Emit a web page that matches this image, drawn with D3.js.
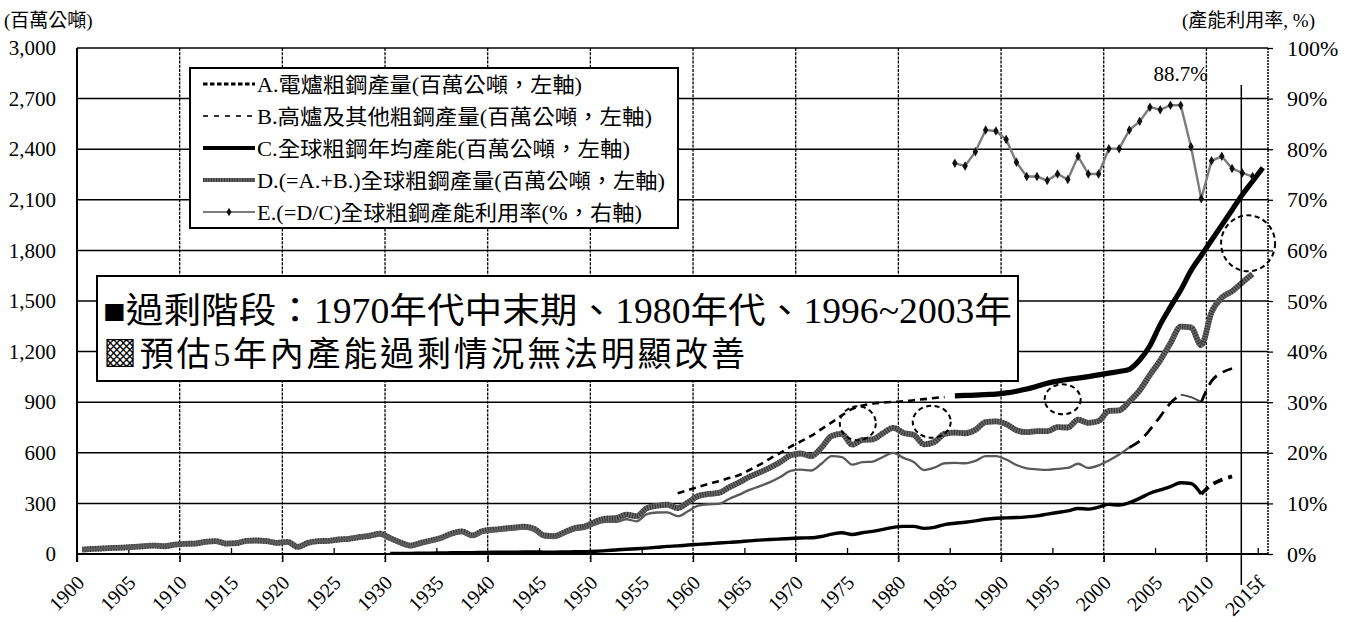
<!DOCTYPE html>
<html><head><meta charset="utf-8">
<script src="https://cdn.jsdelivr.net/npm/d3@7/dist/d3.min.js"></script>
<style>body{margin:0;background:#fff}svg{display:block}</style>
</head><body>
<svg id="c" width="1350" height="622"></svg>
<script>
// ---------------- DATA ----------------
const tickYears = d3.range(1900, 2016, 5);
const tickLabels = ["1900","1905","1910","1915","1920","1925","1930","1935","1940","1945","1950","1955","1960","1965","1970","1975","1980","1985","1990","1995","2000","2005","2010","2015f"];
const leftTicks = [0,300,600,900,1200,1500,1800,2100,2400,2700,3000];
const rightTicks = [0,10,20,30,40,50,60,70,80,90,100];

// D. world crude steel production (Mt), 1900-2014
const prodStart = 1900;
const totalProd = [
 26,30,33,36,38,42,46,50,46,55,
 60,62,72,76,62,64,78,80,76,66,
 72,42,66,76,78,86,90,100,108,120,
 94,68,50,66,80,96,122,134,110,136,
 144,150,156,162,150,110,106,130,154,164,
 192,210,212,234,224,272,286,292,272,306,
 344,356,362,395,425,458,484,512,545,585,
 596,580,630,700,712,648,676,680,716,748,
 718,706,650,664,712,720,716,736,782,786,
 770,734,722,728,728,752,750,796,778,788,
 848,852,904,970,1062,1148,1250,1348,1343,1238,
 1433,1520,1558,1610,1660];

// B. BOF & other production (Mt), 1900-2012
const bofStart = 1900;
const bofProd = [
 26,30,33,36,38,42,46,50,46,55,
 60,62,72,76,62,64,78,80,76,66,
 72,42,66,76,78,86,90,100,108,120,
 90,64,46,61,75,90,115,126,102,127,
 134,140,145,150,138,99,95,118,141,150,
 176,190,190,206,194,236,246,247,224,253,
 287,295,297,326,352,380,402,426,456,493,
 500,495,535,580,575,530,545,548,575,600,
 570,545,498,512,538,540,538,552,580,580,
 560,528,508,502,499,505,510,535,510,525,
 555,590,632,670,737,815,895,945,930,900,
 1025,1075,1100];

// A. EAF production (Mt), 1930-2012
const eafStart = 1930;
const eafProd = [
 4,4,4,5,5,6,7,8,8,9,
 10,10,11,12,12,11,11,12,13,14,
 16,20,24,28,31,35,40,45,48,53,
 57,61,65,69,73,78,82,86,89,92,
 95,96,104,118,126,116,126,134,146,158,
 164,164,152,158,174,182,188,196,206,212,
 214,216,220,226,236,246,256,270,266,278,
 294,290,304,330,360,380,400,422,418,355,
 410,440,460];

// C. world crude steel capacity (Mt), 1958-2015
const capStart = 1958;
const capacity = [
 360,378,398,416,432,450,468,498,530,566,
 600,636,668,700,740,780,822,860,880,892,
 898,902,905,912,918,925,930,937,940,942,
 945,948,955,965,978,995,1012,1025,1035,1043,
 1052,1062,1072,1082,1095,1150,1235,1360,1465,1565,
 1680,1770,1860,1950,2040,2130,2210,2290];

// E. capacity utilisation (%), 1985-2014
const utilStart = 1985;
const utilization = [
 77.2,76.7,79.5,83.8,83.6,81.9,77.4,74.6,74.6,73.8,
 75.1,74.0,78.6,75.1,75.1,80.1,80.1,83.8,85.5,88.3,
 87.8,88.7,88.7,80.5,70.2,77.7,78.6,76.2,75.3,74.6];

const peakLabel = "88.7%";
const peakYear = 2007;
const peakValue = 88.7;

// annotation circles (year on the edge axis, value in Mt)
const circleYears = [1976.05, 1983.25, 1996.0, 2014.06];
const circleValues = [775, 784, 917, 1842];
const markerYear = 2013.4;

const legendLabels = [
 "A.電爐粗鋼產量(百萬公噸，左軸)",
 "B.高爐及其他粗鋼產量(百萬公噸，左軸)",
 "C.全球粗鋼年均產能(百萬公噸，左軸)",
 "D.(=A.+B.)全球粗鋼產量(百萬公噸，左軸)",
 "E.(=D/C)全球粗鋼產能利用率(%，右軸)"];
const noteLines = [
 "■過剩階段：1970年代中末期、1980年代、1996~2003年",
 "▩預估5年內產能過剩情況無法明顯改善"];
const leftTitle = "(百萬公噸)";
const rightTitle = "(產能利用率, %)";

// ---------------- LAYOUT ----------------
const L = 77, R = 1268, T = 48, B = 554;
const FONT = '"Liberation Serif","Times New Roman","Noto Sans CJK TC",serif';
const svg = d3.select("#c");
const xE = d3.scaleLinear().domain([1900, 2016]).range([L, R]);
const xc = yr => xE(yr + 0.5);
const yL = d3.scaleLinear().domain([0, 3000]).range([B, T]);
const yR = d3.scaleLinear().domain([0, 100]).range([B, T]);

const toPts = (start, arr) => arr.map((v, i) => ({year: start + i, v}));
const D = toPts(prodStart, totalProd);
const Bp = toPts(bofStart, bofProd);
const A = toPts(eafStart, eafProd);
const C = toPts(capStart, capacity);
const E = toPts(utilStart, utilization);
const seg = (pts, a, b) => pts.filter(p => p.year >= a && p.year <= b);

const lineL = d3.line().x(d => xc(d.year)).y(d => yL(d.v)).curve(d3.curveMonotoneX);
const lineR = d3.line().x(d => xc(d.year)).y(d => yR(d.v));

// gridlines
const grid = svg.append("g");
grid.selectAll("line.h").data(leftTicks.filter(d => d > 0 && d < 3000)).join("line")
  .attr("x1", L).attr("x2", R).attr("y1", d => yL(d)).attr("y2", d => yL(d))
  .attr("stroke", "#000").attr("stroke-width", 1.5);
grid.selectAll("line.v").data(tickYears.filter(d => d % 10 === 0 && d > 1900)).join("line")
  .attr("x1", d => xE(d)).attr("x2", d => xE(d)).attr("y1", T).attr("y2", B + 8)
  .attr("stroke", "#000").attr("stroke-width", 1.3).attr("stroke-dasharray", "3,1.2");

// x axis
const xAxis = d3.axisBottom(xE).tickValues(tickYears).tickSize(0).tickFormat((d, i) => tickLabels[i]);
const gx = svg.append("g").attr("transform", `translate(0,${B})`).call(xAxis);
gx.select(".domain").remove();
gx.selectAll(".tick").append("line")
  .attr("y1", d => d % 10 === 0 ? 8 : -6).attr("y2", 0).attr("stroke", "#000").attr("stroke-width", 1.3);
gx.selectAll("text").attr("y", 0).attr("dy", 0)
  .attr("transform", "translate(8,30) rotate(-45)")
  .style("text-anchor", "end").style("font-family", FONT).style("font-size", "20px").attr("fill", "#000");

// left axis
const gl = svg.append("g").attr("transform", `translate(${L},0)`)
  .call(d3.axisLeft(yL).tickValues(leftTicks).tickSize(0).tickPadding(21).tickFormat(d3.format(",")));
gl.select(".domain").remove();
gl.selectAll("text").style("font-family", FONT).style("font-size", "21px").attr("fill", "#000");

// right axis
const gr = svg.append("g").attr("transform", `translate(${R},0)`)
  .call(d3.axisRight(yR).tickValues(rightTicks).tickSize(5).tickPadding(14).tickFormat(d => d + "%"));
gr.select(".domain").remove();
gr.selectAll("line").attr("stroke", "#000").attr("stroke-width", 1.3);
gr.selectAll("text").style("font-family", FONT).style("font-size", "22px").attr("fill", "#000");

// frame
svg.append("line").attr("x1", L).attr("x2", R).attr("y1", T).attr("y2", T).attr("stroke", "#000").attr("stroke-width", 1.5);
svg.append("line").attr("x1", L).attr("x2", L).attr("y1", T).attr("y2", B + 8).attr("stroke", "#000").attr("stroke-width", 2);
svg.append("line").attr("x1", L).attr("x2", R).attr("y1", B).attr("y2", B).attr("stroke", "#000").attr("stroke-width", 2.2);
svg.append("line").attr("x1", R).attr("x2", R).attr("y1", T).attr("y2", B).attr("stroke", "#000").attr("stroke-width", 1.5).attr("stroke-dasharray", "2,1");

// titles
svg.append("text").attr("x", 4).attr("y", 27).text(leftTitle)
  .style("font-family", FONT).style("font-size", "19px");
svg.append("text").attr("x", 1182).attr("y", 27).text(rightTitle)
  .style("font-family", FONT).style("font-size", "19px");

// ---------------- SERIES ----------------
const lines = svg.append("g").attr("fill", "none");
function texturedLine(g, d, w) {
  g.append("path").attr("d", d).attr("stroke", "#6c6c6c").attr("stroke-width", w);
  g.append("path").attr("d", d).attr("stroke", "#111").attr("stroke-width", w)
    .attr("stroke-dasharray", "1.2,1.4").attr("opacity", 0.55);
}
// A: EAF
lines.append("path").attr("d", lineL(seg(A, 1930, 2009))).attr("stroke", "#000").attr("stroke-width", 3.4);
lines.append("path").attr("d", lineL(seg(A, 2009, 2012))).attr("stroke", "#000").attr("stroke-width", 3.8).attr("stroke-dasharray", "10,6");
// D: total production
texturedLine(lines, lineL(D), 5.8);
// B: BOF & other
lines.append("path").attr("d", lineL(seg(Bp, 1900, 2002))).attr("stroke", "#5a5a5a").attr("stroke-width", 2.3);
lines.append("path").attr("d", lineL(seg(Bp, 2002, 2007))).attr("stroke", "#000").attr("stroke-width", 2.8).attr("stroke-dasharray", "12,7");
lines.append("path").attr("d", lineL(seg(Bp, 2007, 2009))).attr("stroke", "#444").attr("stroke-width", 2);
lines.append("path").attr("d", lineL(seg(Bp, 2009, 2012))).attr("stroke", "#000").attr("stroke-width", 2.8).attr("stroke-dasharray", "12,7");
// C: capacity
lines.append("path").attr("d", lineL(seg(C, 1958, 1984))).attr("stroke", "#000").attr("stroke-width", 2.6).attr("stroke-dasharray", "7,5");
lines.append("path").attr("d", lineL(seg(C, 1985, 2015))).attr("stroke", "#000").attr("stroke-width", 5.2);
// E: utilisation
lines.append("path").attr("d", lineR(E)).attr("stroke", "#7c7c7c").attr("stroke-width", 2.4);
svg.append("g").selectAll("path").data(E).join("path")
  .attr("transform", d => `translate(${xc(d.year)},${yR(d.v)})`)
  .attr("d", d3.symbol(d3.symbolDiamond, 26)).attr("fill", "#111");

// peak label
svg.append("text").attr("x", xc(peakYear)).attr("y", yR(peakValue) - 24).attr("text-anchor", "middle")
  .text(peakLabel).style("font-family", FONT).style("font-size", "21px");

// marker line
svg.append("line").attr("x1", xE(markerYear)).attr("x2", xE(markerYear))
  .attr("y1", yL(2780)).attr("y2", B + 31).attr("stroke", "#000").attr("stroke-width", 1.5);

// annotation circles
const circleR = [[18, 17], [19, 16], [18, 15], [27, 28]];
svg.append("g").selectAll("ellipse").data(circleYears).join("ellipse")
  .attr("cx", d => xE(d)).attr("cy", (d, i) => yL(circleValues[i]))
  .attr("rx", (d, i) => circleR[i][0]).attr("ry", (d, i) => circleR[i][1])
  .attr("fill", "none").attr("stroke", "#000").attr("stroke-width", 2).attr("stroke-dasharray", "5,3.5");

// ---------------- LEGEND ----------------
const lg = svg.append("g");
lg.append("rect").attr("x", 190).attr("y", 68).attr("width", 488).attr("height", 160)
  .attr("fill", "#fff").attr("stroke", "#000").attr("stroke-width", 2);
const legLens = [325, 395, 373, 408, 385];
legendLabels.forEach((t, i) => {
  const cy = 84 + i * 32;
  const gg = lg.append("g");
  if (i === 0) gg.append("line").attr("x1", 203).attr("x2", 255).attr("y1", cy).attr("y2", cy)
    .attr("stroke", "#000").attr("stroke-width", 3).attr("stroke-dasharray", "4.5,2.5");
  if (i === 1) gg.append("line").attr("x1", 203).attr("x2", 255).attr("y1", cy).attr("y2", cy)
    .attr("stroke", "#333").attr("stroke-width", 2.2).attr("stroke-dasharray", "5,6");
  if (i === 2) gg.append("line").attr("x1", 203).attr("x2", 255).attr("y1", cy).attr("y2", cy)
    .attr("stroke", "#000").attr("stroke-width", 4);
  if (i === 3) texturedLine(gg.attr("fill", "none"), `M203,${cy}H255`, 4);
  if (i === 4) {
    gg.append("line").attr("x1", 203).attr("x2", 255).attr("y1", cy).attr("y2", cy)
      .attr("stroke", "#7c7c7c").attr("stroke-width", 2);
    gg.append("path").attr("transform", `translate(229,${cy})`).attr("d", d3.symbol(d3.symbolDiamond, 22)).attr("fill", "#111");
  }
  lg.append("text").attr("x", 257).attr("y", cy + 8).text(t)
    .attr("textLength", legLens[i]).attr("lengthAdjust", "spacingAndGlyphs")
    .style("font-family", FONT).style("font-size", "21px");
});

// ---------------- NOTE BOX ----------------
const nb = svg.append("g");
nb.append("rect").attr("x", 97).attr("y", 276).attr("width", 921).attr("height", 105)
  .attr("fill", "#fff").attr("stroke", "#000").attr("stroke-width", 2);
nb.append("text").attr("x", 103).attr("y", 323).text(noteLines[0])
  .attr("textLength", 909).attr("lengthAdjust", "spacingAndGlyphs")
  .style("font-family", FONT).style("font-size", "35px");
nb.append("text").attr("x", 103).attr("y", 366).text(noteLines[1])
  .attr("textLength", 642).attr("lengthAdjust", "spacing")
  .style("font-family", FONT).style("font-size", "34px");
</script>
</body></html>
